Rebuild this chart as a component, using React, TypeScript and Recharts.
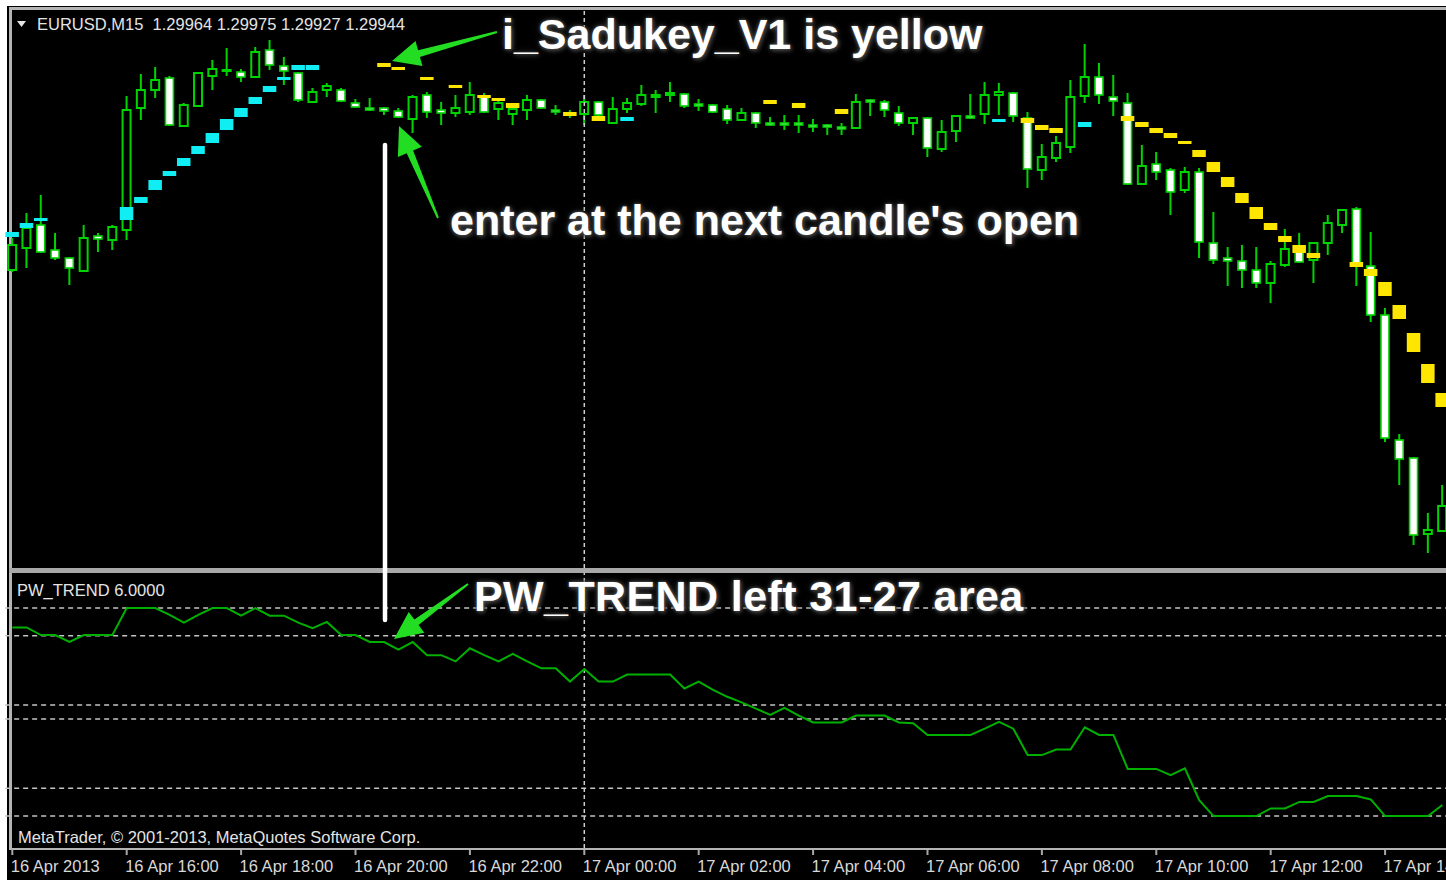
import React from 'react';
import { ComposedChart, Bar, Line, XAxis, YAxis, ReferenceLine } from 'recharts';

// EURUSD M15, bars from 16 Apr 2013 14:00 (index 0) to 17 Apr 15:00 (index 100); prices in points (1e-5)
const opens = [
  130420, 130464, 130510, 130460, 130444, 130418, 130488, 130480, 130500, 130744,
  130780, 130804, 130708, 130748, 130808, 130818, 130816, 130806, 130860, 130828,
  130814, 130756, 130780, 130780, 130754, 130744, 130744, 130738, 130722, 130770,
  130740, 130734, 130736, 130766, 130742, 130732, 130740, 130760, 130740, 130734,
  130732, 130756, 130714, 130742, 130752, 130766, 130770, 130772, 130752, 130750,
  130742, 130720, 130734, 130714, 130714, 130714, 130710, 130710, 130706, 130704,
  130760, 130756, 130734, 130714, 130724, 130662, 130698, 130728, 130732, 130770,
  130774, 130724, 130620, 130644, 130666, 130768, 130806, 130766, 130754, 130592,
  130632, 130620, 130580, 130616, 130474, 130444, 130438, 130420, 130394, 130430,
  130456, 130440, 130474, 130510, 130542, 130428, 130330, 130080, 130044, 129892,
  129898,
];
const highs = [
  130484, 130534, 130570, 130494, 130446, 130510, 130494, 130510, 130768, 130812,
  130826, 130808, 130754, 130816, 130840, 130864, 130822, 130866, 130880, 130846,
  130816, 130784, 130794, 130784, 130762, 130764, 130746, 130744, 130770, 130776,
  130756, 130770, 130796, 130774, 130760, 130750, 130770, 130762, 130750, 130740,
  130770, 130758, 130766, 130764, 130790, 130780, 130796, 130774, 130762, 130752,
  130750, 130744, 130736, 130726, 130730, 130730, 130722, 130712, 130714, 130772,
  130762, 130760, 130748, 130726, 130726, 130720, 130730, 130772, 130796, 130794,
  130776, 130736, 130672, 130688, 130800, 130872, 130834, 130810, 130774, 130670,
  130656, 130624, 130626, 130624, 130536, 130466, 130470, 130466, 130438, 130502,
  130494, 130476, 130530, 130542, 130546, 130496, 130344, 130092, 130046, 129934,
  129990,
];
const lows = [
  130416, 130424, 130454, 130440, 130390, 130416, 130456, 130460, 130480, 130720,
  130764, 130708, 130706, 130746, 130780, 130808, 130796, 130804, 130820, 130790,
  130756, 130754, 130766, 130756, 130744, 130738, 130730, 130724, 130694, 130724,
  130710, 130726, 130730, 130734, 130720, 130710, 130720, 130742, 130730, 130724,
  130710, 130720, 130712, 130734, 130748, 130734, 130756, 130744, 130738, 130734,
  130712, 130718, 130704, 130708, 130700, 130694, 130696, 130690, 130690, 130702,
  130728, 130726, 130708, 130690, 130646, 130656, 130676, 130722, 130712, 130730,
  130716, 130584, 130600, 130636, 130654, 130754, 130752, 130728, 130590, 130590,
  130600, 130530, 130574, 130444, 130432, 130388, 130384, 130384, 130354, 130426,
  130434, 130394, 130450, 130494, 130388, 130316, 130076, 129990, 129870, 129854,
  129896,
];
const closes = [
  130470, 130504, 130456, 130444, 130424, 130484, 130482, 130506, 130740, 130780,
  130800, 130710, 130750, 130814, 130822, 130820, 130806, 130856, 130830, 130818,
  130760, 130776, 130788, 130758, 130746, 130740, 130738, 130726, 130766, 130736,
  130734, 130744, 130770, 130736, 130754, 130742, 130760, 130744, 130736, 130730,
  130756, 130730, 130742, 130754, 130770, 130770, 130774, 130748, 130748, 130736,
  130720, 130734, 130714, 130710, 130710, 130710, 130706, 130706, 130702, 130756,
  130756, 130740, 130714, 130724, 130664, 130696, 130728, 130724, 130770, 130776,
  130728, 130622, 130646, 130674, 130766, 130806, 130770, 130758, 130592, 130628,
  130616, 130576, 130616, 130476, 130440, 130438, 130420, 130394, 130432, 130462,
  130436, 130474, 130514, 130540, 130434, 130330, 130084, 130042, 129890, 129900,
  129948,
];

// i_Sadukey_V1 marks: [bar, low, high]
const cyanMarks: [number, number, number][] = [
  [0, 130486, 130496], [1, 130504, 130514], [2, 130518, 130524], [8, 130520, 130546],
  [9, 130554, 130566], [10, 130580, 130600], [11, 130608, 130618], [12, 130628, 130644],
  [13, 130652, 130668], [14, 130674, 130694], [15, 130700, 130722], [16, 130726, 130744],
  [17, 130752, 130766], [18, 130776, 130788], [19, 130800, 130806], [20, 130820, 130830],
  [21, 130820, 130830], [43, 130718, 130726], [69, 130716, 130722], [75, 130706, 130716],
];
const yellowMarks: [number, number, number][] = [
  [26, 130826, 130834], [27, 130820, 130826], [29, 130800, 130806], [31, 130784, 130790],
  [33, 130764, 130770], [34, 130758, 130764], [35, 130744, 130754], [39, 130728, 130736],
  [41, 130718, 130728], [53, 130752, 130760], [55, 130744, 130754], [58, 130732, 130742],
  [71, 130714, 130724], [72, 130700, 130710], [73, 130694, 130704], [78, 130718, 130728],
  [79, 130706, 130716], [80, 130694, 130704], [81, 130684, 130694], [82, 130672, 130678],
  [83, 130646, 130660], [84, 130616, 130636], [85, 130586, 130606], [86, 130554, 130574],
  [87, 130522, 130546], [88, 130500, 130514], [89, 130476, 130488], [90, 130454, 130470],
  [91, 130444, 130454], [94, 130426, 130436], [95, 130408, 130422], [96, 130368, 130396],
  [97, 130322, 130350], [98, 130256, 130294], [99, 130194, 130232], [100, 130146, 130174],
];

// PW_TREND indicator values
const pwTrend = [
  28.2, 28.2, 27.1, 27.1, 26.1, 27.1, 27.1, 27.1, 31, 31,
  31, 30, 28.9, 30, 31, 31, 29.9, 31, 29.9, 29.9,
  28.9, 28.1, 29, 27.1, 27.1, 26.1, 26.1, 25, 26.1, 24.2,
  24.2, 23.3, 25.2, 24.2, 23.3, 24.4, 23.3, 22.3, 22.3, 20.4,
  22.2, 20.4, 20.4, 21.4, 21.4, 21.4, 21.4, 19.4, 20.4, 19.2,
  18.2, 17.4, 16.5, 15.6, 16.6, 15.5, 14.5, 14.5, 14.5, 15.5,
  15.5, 15.5, 14.5, 14.4, 12.7, 12.7, 12.7, 12.7, 13.6, 14.6,
  13.6, 9.8, 9.8, 10.6, 10.6, 13.8, 12.7, 12.7, 7.8, 7.8,
  7.8, 6.9, 7.9, 3.3, 1, 1, 1, 1, 2.1, 2.1,
  3.05, 3.05, 3.9, 3.9, 3.9, 3.4, 1, 1, 1, 1,
  2.6,
];
const pwLevels = [31, 27, 17, 15, 5, 1];

const tickBars = [0, 8, 16, 24, 32, 40, 48, 56, 64, 72, 80, 88, 96];
const tickLabels = [
  '16 Apr 2013', '16 Apr 16:00', '16 Apr 18:00', '16 Apr 20:00', '16 Apr 22:00',
  '17 Apr 00:00', '17 Apr 02:00', '17 Apr 04:00', '17 Apr 06:00', '17 Apr 08:00',
  '17 Apr 10:00', '17 Apr 12:00', '17 Apr 14:00',
];
const daySeparatorBar = 40;

type Row = { i: number; o: number; h: number; l: number; c: number; pw: number; cy: number[] | null; ye: number[] | null };
const rows: Row[] = opens.map((o, i) => ({ i, o, h: highs[i], l: lows[i], c: closes[i], pw: pwTrend[i], cy: null, ye: null }));
cyanMarks.forEach(([b, lo, hi]) => { rows[b].cy = [lo, hi]; });
yellowMarks.forEach(([b, lo, hi]) => { rows[b].ye = [lo, hi]; });

const GREEN = '#00d400';
const CYAN = '#10eef4';
const YELLOW = '#ffe600';
const FONT = '"Liberation Sans", Arial, sans-serif';

const CandleShape = (props: any) => {
  const { x, y, width, height, payload } = props;
  if (!payload || y == null || height == null || isNaN(y) || isNaN(height)) return <g />;
  const top = Math.min(y, y + height);
  const h = Math.abs(height);
  const range = payload.h - payload.l;
  const ppu = range > 0 ? h / range : 0;
  const yO = top + (payload.h - payload.o) * ppu;
  const yC = top + (payload.h - payload.c) * ppu;
  const cx = x + width / 2;
  const bull = payload.c > payload.o;
  const bw = 8;
  const bodyTop = Math.min(yO, yC);
  const bodyH = Math.max(Math.abs(yO - yC), 1);
  return (
    <g>
      <line x1={cx} x2={cx} y1={top} y2={top + h} stroke={GREEN} strokeWidth={2} />
      <rect x={cx - bw / 2} y={bodyTop} width={bw} height={bodyH} fill={bull ? '#000' : '#ffffff'} stroke={GREEN} strokeWidth={bull ? 2 : 1.6} />
    </g>
  );
};

const makeMark = (color: string, key: 'cy' | 'ye') => (props: any) => {
  const { x, y, width, height, payload } = props;
  if (!payload || payload[key] == null || y == null || isNaN(y) || isNaN(height)) return <g />;
  const top = Math.min(y, y + height);
  const h = Math.max(Math.abs(height), 3);
  const w = 13.5;
  return <rect x={x + width / 2 - w / 2} y={top} width={w} height={h} fill={color} />;
};
const CyanMark = makeMark(CYAN, 'cy');
const YellowMark = makeMark(YELLOW, 'ye');

const DateTick = (props: any) => {
  const { x, y, payload } = props;
  const idx = tickBars.indexOf(payload.value);
  return (
    <g>
      <line x1={x} x2={x} y1={y + 2} y2={y + 7} stroke="#a8a8a8" strokeWidth={2} />
      <text x={x - 1.5} y={y + 23.5} fill="#d8d8d8" fontSize={16.5} fontFamily={FONT} textAnchor="start">
        {idx >= 0 ? tickLabels[idx] : ''}
      </text>
    </g>
  );
};

const annotationStyle: React.CSSProperties = {
  position: 'absolute',
  fontFamily: FONT,
  fontWeight: 'bold',
  fontSize: 43,
  lineHeight: '43px',
  color: '#ffffff',
  whiteSpace: 'nowrap',
  textShadow: '0 0 3px #555, 0 0 6px #444, 2px 2px 4px #333',
};
const smallText: React.CSSProperties = {
  position: 'absolute',
  fontFamily: FONT,
  fontSize: 16.5,
  lineHeight: '16px',
  color: '#e4e4e4',
  whiteSpace: 'pre',
};

const CHART_W = 1450;
const PLOT_LEFT = 5.15;
const PLOT_RIGHT = 0.55;

export default function App() {
  return (
    <div style={{ position: 'fixed', left: 0, top: 0, width: 1446, height: 880, background: '#ffffff', overflow: 'hidden' }}>
      <div style={{ position: 'absolute', left: 7, top: 6, width: 1439, height: 874, background: '#000' }} />
      {/* frame */}
      <div style={{ position: 'absolute', left: 9, top: 7, width: 1437, height: 2.5, background: '#b4b4b4' }} />
      <div style={{ position: 'absolute', left: 9, top: 7, width: 2.5, height: 843, background: '#b4b4b4' }} />
      <div style={{ position: 'absolute', left: 9, top: 567.5, width: 1437, height: 5, background: '#a8a8a8' }} />
      <div style={{ position: 'absolute', left: 9, top: 848, width: 1437, height: 2, background: '#b4b4b4' }} />

      <div style={{ position: 'absolute', left: 0, top: 0 }}>
        <ComposedChart width={CHART_W} height={570} data={rows} barCategoryGap={0} barGap={0}
          margin={{ top: 10, right: PLOT_RIGHT, bottom: 2, left: PLOT_LEFT }}>
          <XAxis xAxisId="c" dataKey="i" type="category" scale="band" hide />
          <XAxis xAxisId="cy" dataKey="i" type="category" scale="band" hide />
          <XAxis xAxisId="ye" dataKey="i" type="category" scale="band" hide />
          <YAxis hide domain={[129824, 130940]} allowDataOverflow />
          <ReferenceLine xAxisId="c" x={daySeparatorBar} stroke="#cfcfcf" strokeWidth={1.5} strokeDasharray="4 3" />
          <Bar xAxisId="c" dataKey={(d: Row) => [d.l, d.h]} shape={(p: any) => <CandleShape {...p} />} isAnimationActive={false} />
          <Bar xAxisId="cy" dataKey="cy" shape={(p: any) => <CyanMark {...p} />} isAnimationActive={false} />
          <Bar xAxisId="ye" dataKey="ye" shape={(p: any) => <YellowMark {...p} />} isAnimationActive={false} />
        </ComposedChart>
      </div>

      <div style={{ position: 'absolute', left: 0, top: 560 }}>
        <ComposedChart width={CHART_W} height={320} data={rows}
          margin={{ top: 13, right: PLOT_RIGHT, bottom: 0, left: PLOT_LEFT }}>
          <XAxis dataKey="i" type="category" scale="band" height={32} ticks={tickBars} interval={0}
            axisLine={false} tickLine={false} tickSize={0} tickMargin={0} tick={(p: any) => <DateTick {...p} />} />
          <YAxis hide domain={[-3.6, 36.05]} allowDataOverflow />
          {pwLevels.map((v) => (
            <ReferenceLine key={v} y={v} stroke="#c4c4c4" strokeWidth={1.5} strokeDasharray="5 4" />
          ))}
          <ReferenceLine x={daySeparatorBar} stroke="#cfcfcf" strokeWidth={1.5} strokeDasharray="4 3" />
          <Line dataKey="pw" stroke="#00b000" strokeWidth={2} dot={false} isAnimationActive={false} />
        </ComposedChart>
      </div>

      {/* overlay annotations */}
      <svg width={1446} height={880} style={{ position: 'absolute', left: 0, top: 0, pointerEvents: 'none' }}>
        <polygon points="17,21 26,21 21.5,27" fill="#e4e4e4" />
        <line x1={385} x2={385} y1={145} y2={620} stroke="#ffffff" strokeWidth={4.5} strokeLinecap="round" />
        <polygon points="392,61 422.5,66.1 419.9,57 497.3,33 496.7,31 418.1,50.2 415.5,41.1" fill="#22dd22" />
        <polygon points="399,126 421.9,146.7 413.1,150.4 438.9,217.6 437.1,218.4 406.7,153.2 397.9,156.9" fill="#22dd22" />
        <polygon points="394,639 424.3,632.7 418.6,625.1 468.6,584.8 467.4,583.2 414.4,619.5 408.7,611.9" fill="#22dd22" />
      </svg>

      <div style={{ ...smallText, left: 37, top: 16 }}>EURUSD,M15  1.29964 1.29975 1.29927 1.29944</div>
      <div style={{ ...smallText, left: 17, top: 581.5 }}>PW_TREND 6.0000</div>
      <div style={{ ...smallText, left: 18, top: 828.5 }}>MetaTrader, © 2001-2013, MetaQuotes Software Corp.</div>

      <div style={{ ...annotationStyle, left: 502, top: 13 }}>i_Sadukey_V1 is yellow</div>
      <div style={{ ...annotationStyle, left: 450, top: 199 }}>enter at the next candle's open</div>
      <div style={{ ...annotationStyle, left: 474, top: 575, letterSpacing: 0.4 }}>PW_TREND left 31-27 area</div>
    </div>
  );
}
